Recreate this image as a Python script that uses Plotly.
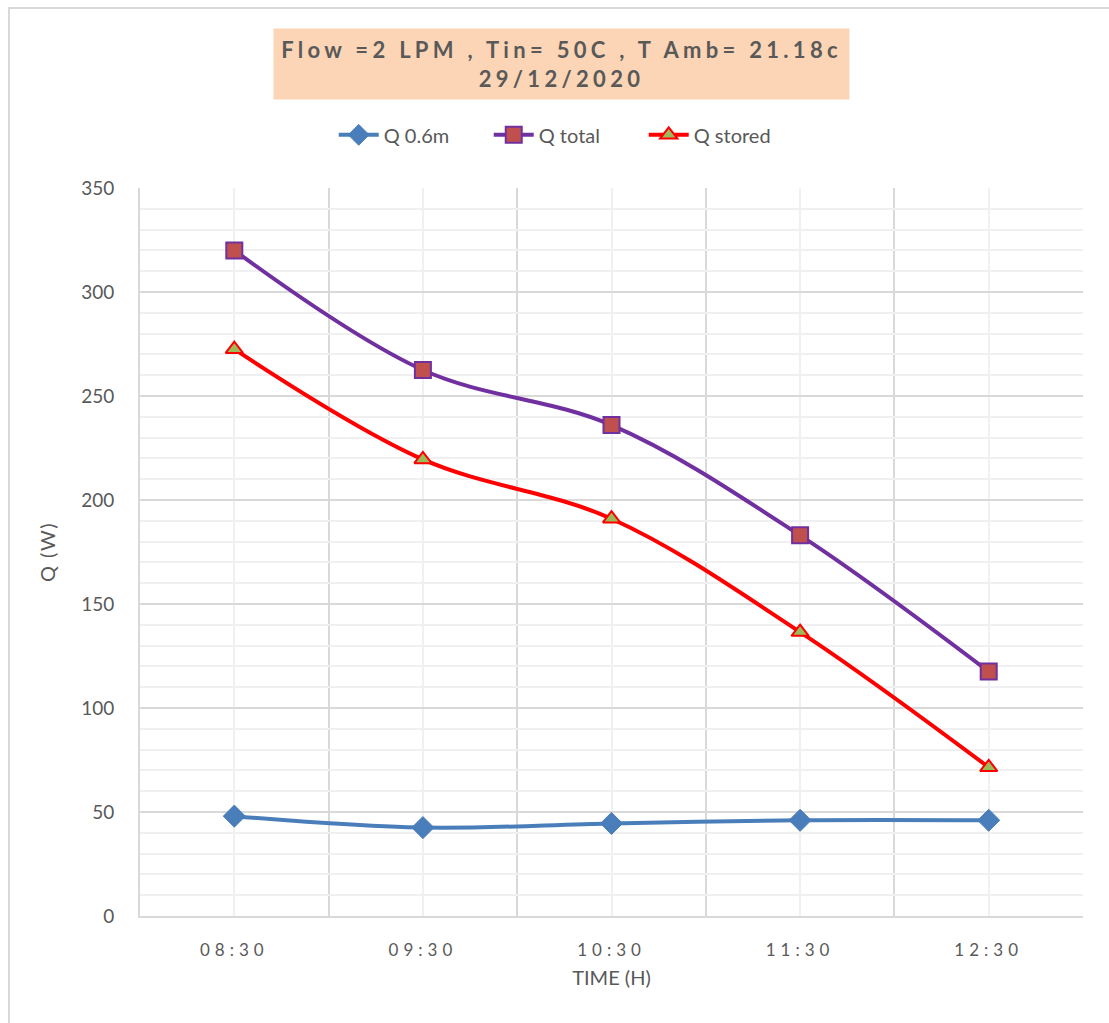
import plotly.graph_objects as go

times = ["08:30", "09:30", "10:30", "11:30", "12:30"]
q_06m = [48, 42.5, 44.5, 46, 46]
q_total = [320, 262.5, 236, 183, 117.5]
q_stored = [272.5, 219.5, 191, 136.5, 71.5]

x_pos = list(range(len(times)))
FONT = "Lato"
GRAY = "#595959"

fig = go.Figure()
fig.add_trace(go.Scatter(
    x=x_pos, y=q_06m, name="Q 0.6m", mode="lines+markers",
    line=dict(color="#4A7EBB", width=4, shape="spline", smoothing=1.0),
    marker=dict(symbol="diamond", size=17, color="#4A7EBB", line=dict(color="#4A7EBB", width=1)),
))
fig.add_trace(go.Scatter(
    x=x_pos, y=q_total, name="Q total", mode="lines+markers",
    line=dict(color="#7030A0", width=4, shape="spline", smoothing=1.0),
    marker=dict(symbol="square", size=16, color="#C0504D", line=dict(color="#7030A0", width=2)),
))
fig.add_trace(go.Scatter(
    x=x_pos, y=q_stored, name="Q stored", mode="lines+markers",
    line=dict(color="#FF0000", width=4, shape="spline", smoothing=1.0),
    marker=dict(symbol="triangle-up", size=15, color="#9BBB59", line=dict(color="#FF0000", width=2)),
))

ticktext = ['<span style="letter-spacing:5px">%s</span>' % t for t in times]

fig.update_layout(
    width=1109, height=1023,
    margin=dict(l=140, r=26, t=188, b=107),
    paper_bgcolor="white", plot_bgcolor="white",
    font=dict(family=FONT, color=GRAY, size=18),
    showlegend=True,
    legend=dict(orientation="h", x=0.452, xanchor="center", y=1.073, yanchor="middle",
                font=dict(size=20, color=GRAY), bgcolor="rgba(0,0,0,0)", itemwidth=40,
                entrywidth=100, traceorder="normal"),
    xaxis=dict(
        range=[-0.5, 4.5], tickmode="array", tickvals=x_pos, ticktext=ticktext,
        showgrid=True, gridcolor="#F0F0F0", gridwidth=2,
        minor=dict(tickmode="array", tickvals=[-0.5, 0.5, 1.5, 2.5, 3.5, 4.5],
                   showgrid=True, gridcolor="#D9D9D9", gridwidth=2, ticks=""),
        showline=True, linecolor="#D9D9D9", linewidth=2,
        ticks="", tickfont=dict(size=17, color=GRAY), ticklabelstandoff=18,
        zeroline=False,
        title=dict(text="TIME (H)", font=dict(size=20, color=GRAY), standoff=12),
    ),
    yaxis=dict(
        range=[0, 350], tickmode="linear", tick0=0, dtick=50,
        showgrid=True, gridcolor="#D9D9D9", gridwidth=2,
        minor=dict(dtick=10, showgrid=True, gridcolor="#F0F0F0", gridwidth=2, ticks=""),
        showline=True, linecolor="#D9D9D9", linewidth=2,
        ticks="", tickfont=dict(size=19, color=GRAY), ticklabelstandoff=20,
        zeroline=False,
        title=dict(text='<span style="letter-spacing:1.5px">Q (W)</span>',
                   font=dict(size=20, color=GRAY), standoff=20),
    ),
    annotations=[dict(
        text='<b><span style="letter-spacing:4.3px">Flow =2 LPM , Tin= 50C , T Amb= 21.18c</span></b><br>'
             '<b><span style="letter-spacing:4.3px">29/12/2020</span></b>',
        xref="paper", yref="paper", x=0.447, y=1.170, xanchor="center", yanchor="middle",
        showarrow=False, bgcolor="#FBD5B5", width=573, height=68, align="center",
        font=dict(size=22, color=GRAY, family=FONT),
    )],
    shapes=[dict(
        type="rect", xref="paper", yref="paper",
        x0=(9 - 140) / 943, x1=(1130 - 140) / 943,
        y0=(916 - 1040) / 728, y1=(916 - 8) / 728,
        line=dict(color="#D9D9D9", width=2), fillcolor="rgba(0,0,0,0)", layer="below",
    )],
)

fig.write_html("out.html")
